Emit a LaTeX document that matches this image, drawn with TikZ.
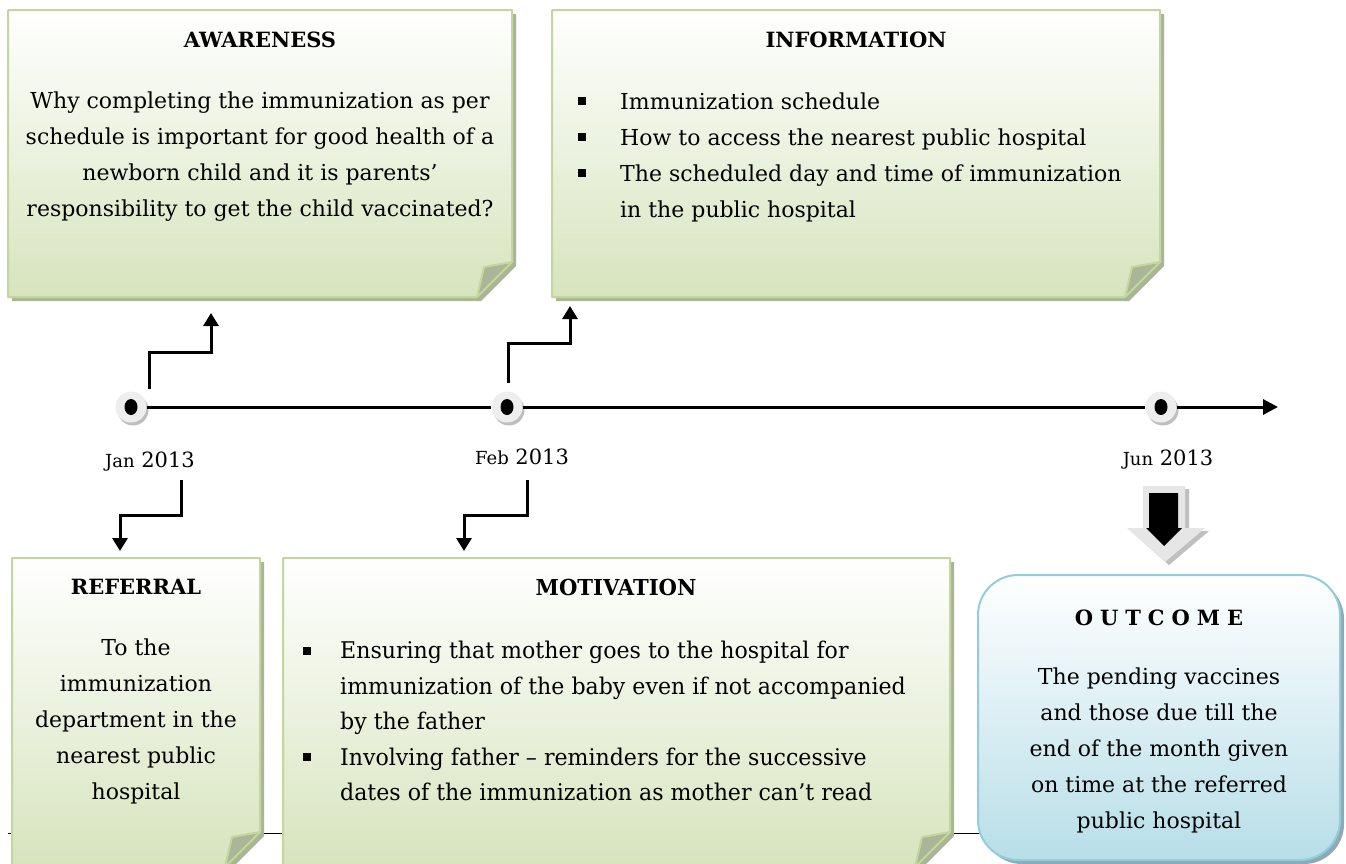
\documentclass[tikz,border=0pt]{standalone}
\usepackage{fontspec}
\setmainfont{DejaVu Serif}
\newfontfamily\condfont[FakeStretch=0.96]{DejaVu Serif}
\usetikzlibrary{arrows.meta,shadows}
\definecolor{ngreen}{HTML}{D7E4BD}
\definecolor{ngborder}{HTML}{C3D69B}
\definecolor{ngshadow}{HTML}{A9B596}
\definecolor{nfold}{HTML}{AAB697}
\definecolor{oblue}{HTML}{B7DEE8}
\definecolor{oborder}{HTML}{93CDDD}
\definecolor{oshadow}{HTML}{8EAAB6}
\definecolor{dotgray}{HTML}{EEEEEE}
\definecolor{dotshadow}{HTML}{BFBFBF}
\definecolor{arrgray}{HTML}{E6E6E6}
\newcommand{\drawnote}[4]{%
  \fill[ngshadow] ({#1+4},{-(#2)-4}) -- ({#3+4},{-(#2)-4}) -- ({#3+4},{-(#4)+35-4}) -- ({#3-35+4},{-(#4)-4}) -- ({#1+4},{-(#4)-4}) -- cycle;
  \shadedraw[draw=ngborder, line width=2pt, line join=round, top color=white, middle color=ngreen!55, bottom color=ngreen]
    (#1,{-(#2)}) -- (#3,{-(#2)}) -- (#3,{-(#4)+35}) -- ({#3-35},{-(#4)}) -- (#1,{-(#4)}) -- cycle;
  \filldraw[fill=nfold, draw=ngborder, line width=2pt, line join=round]
    ({#3-35},{-(#4)}) -- ({#3-28},{-(#4)+30}) -- (#3,{-(#4)+35}) -- cycle;
}
\newcommand{\bul}[1]{\makebox[#1][l]{\raisebox{4pt}{\rule{8pt}{8pt}}}}
\tikzset{
  x=1pt, y=1pt,
  body/.style={font=\fontsize{22}{36}\selectfont, align=center, inner sep=0pt},
  ttl/.style={font=\fontsize{21}{25}\selectfont\bfseries, inner sep=0pt},
  lst/.style={font=\fontsize{22}{36}\selectfont, align=left, inner sep=0pt, anchor=west},
  clst/.style={font=\condfont\fontsize{23}{35.5}\selectfont, align=left, inner sep=0pt, anchor=west},
  elb/.style={line width=3pt, -{Triangle[length=13pt,width=15pt]}},
  tline/.style={line width=3pt},
  tdot/.style={circle, minimum size=31pt, inner sep=0pt, fill=dotgray,
    drop shadow={shadow xshift=2pt, shadow yshift=-3pt, fill=dotshadow, opacity=1},
    path picture={\fill[black] (path picture bounding box.center) ellipse (6.5pt and 8pt);}},
  datelbl/.style={font=\fontsize{21}{25}\selectfont, inner sep=0pt},
}
\begin{document}
\begin{tikzpicture}
\useasboundingbox (0,0) rectangle (1346,-863);
\fill[white] (0,0) rectangle (1346,-863);
% page line behind boxes
\draw[line width=1pt] (8,-833) -- (985,-833);

% note boxes
\drawnote{8}{10}{512}{297}
\drawnote{552}{10}{1160}{297}
\drawnote{12}{558}{260}{867}
\drawnote{283}{558}{950}{867}

% outcome box
\node[draw=oborder, line width=2pt, rounded corners=40pt, top color=white, middle color=oblue!45, bottom color=oblue,
  minimum width=362pt, minimum height=285pt, inner sep=0pt,
  drop shadow={shadow xshift=4pt, shadow yshift=-4pt, fill=oshadow, opacity=1}] (outcome) at (1159,-717.5) {};

% texts
\node[ttl] (awt) at (260,-40) {AWARENESS};
\node[body] (awb) at (260,-157) {Why completing the immunization as per\\schedule is important for good health of a\\newborn child and it is parents’\\responsibility to get the child vaccinated?};

\node[ttl] (inft) at (856,-40) {INFORMATION};
\node[lst] (infb) at (578,-157) {\bul{42pt}Immunization schedule\\\bul{42pt}How to access the nearest public hospital\\\bul{42pt}The scheduled day and time of immunization\\\hspace*{42pt}in the public hospital};

\node[ttl] (reft) at (136,-587) {REFERRAL};
\node[body] (refb) at (136,-721) {To the\\immunization\\department in the\\nearest public\\hospital};

\node[ttl, font=\condfont\fontsize{22}{25}\selectfont\bfseries] (mott) at (616,-587) {MOTIVATION};
\node[clst] (motb) at (303,-721) {\bul{37pt}Ensuring that mother goes to the hospital for\\\hspace*{37pt}immunization of the baby even if not accompanied\\\hspace*{37pt}by the father\\\bul{37pt}Involving father – reminders for the successive\\\hspace*{37pt}dates of the immunization as mother can’t read};

\node[ttl] (outt) at (1159,-618) {O\,\,U\,\,T\,\,C\,\,O\,\,M\,\,E};
\node[body] (outb) at (1159,-750) {The pending vaccines\\and those due till the\\end of the month given\\on time at the referred\\public hospital};

% timeline
\node[tdot] (jan) at (131,-407) {};
\node[tdot] (feb) at (507,-407) {};
\node[tdot] (jun) at (1161,-407) {};
\coordinate (tlend) at (1278,-407);
\draw[tline] (jan) -- (feb);
\draw[tline] (feb) -- (jun);
\draw[tline, -{Triangle[length=15pt,width=15pt]}] (jun) -- (tlend);

\node[datelbl] (jand) at (150,-462) {{\fontsize{18}{22}\selectfont Jan} 2013};
\node[datelbl] (febd) at (522,-457) {{\fontsize{18}{22}\selectfont Feb} 2013};
\node[datelbl] (jund) at (1168,-460) {{\fontsize{18}{22}\selectfont Jun} 2013};

% elbow connectors
\coordinate (ja1) at (149,-389); \coordinate (ja2) at (211,-313);
\coordinate (fa1) at (508,-383); \coordinate (fa2) at (570,-306);
\coordinate (jb1) at (181,-480); \coordinate (jb2) at (120,-551);
\coordinate (fb1) at (527,-480); \coordinate (fb2) at (464,-551);
\draw[elb] (ja1) -- ++(0,37) -| (ja2);
\draw[elb] (fa1) -- ++(0,40) -| (fa2);
\draw[elb] (jb1) -- ++(0,-35) -| (jb2);
\draw[elb] (fb1) -- ++(0,-35) -| (fb2);

% block arrow down to outcome
\fill[dotshadow] (1147,-489) -- (1189,-489) -- (1189,-531) -- (1209,-531) -- (1169,-565) -- (1131,-531) -- (1147,-531) -- cycle;
\fill[arrgray] (1143,-486) -- (1185,-486) -- (1185,-528) -- (1205,-528) -- (1165,-562) -- (1127,-528) -- (1143,-528) -- cycle;
\fill[black] (1149,-493) -- (1178,-493) -- (1178,-528) -- (1182,-528) -- (1164,-546) -- (1146,-528) -- (1149,-528) -- cycle;
\end{tikzpicture}
\end{document}
